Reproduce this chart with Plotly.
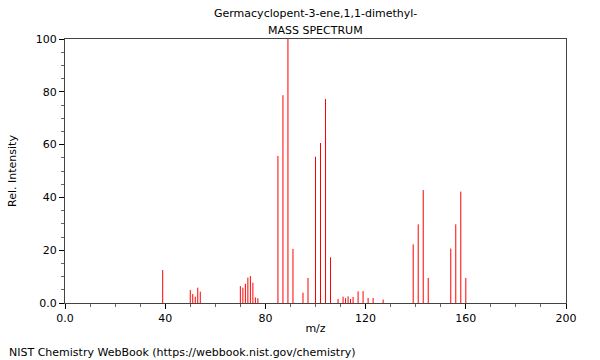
import plotly.graph_objects as go

mz = [39, 50, 51, 52, 53, 54, 70, 71, 72, 73, 74, 75, 76, 77,
      85, 87, 89, 91, 95, 97, 100, 102, 104, 106,
      109, 111, 112, 113, 114, 115, 117, 119, 121, 123, 127,
      139, 141, 143, 145, 154, 156, 158, 160]
intensity = [12.5, 4.9, 3.4, 2.4, 5.8, 4.3, 6.4, 5.8, 7.3, 9.6, 10.2, 7.7, 2.1, 1.8,
             55.7, 78.7, 100, 20.5, 3.9, 9.5, 55.4, 60.6, 77.3, 17.3,
             1.5, 2.4, 1.8, 2.5, 1.5, 2.3, 4.4, 4.5, 1.9, 1.9, 1.3,
             22.2, 29.8, 42.8, 9.5, 20.6, 29.8, 42.2, 9.5]

x_ticks = [0, 40, 80, 120, 160, 200]
x_ticktext = ["0.0", "40", "80", "120", "160", "200"]
y_ticks = [0, 20, 40, 60, 80, 100]
y_ticktext = ["0.0", "20", "40", "60", "80", "100"]

xs, ys = [], []
for m, v in zip(mz, intensity):
    xs += [m, m, None]
    ys += [0, v, None]

fig = go.Figure(go.Scatter(x=xs, y=ys, mode="lines",
                           line=dict(color="#ff0000", width=1),
                           hoverinfo="skip", showlegend=False))

font = dict(family="DejaVu Sans", size=11, color="#000")
axcol = "#444"
fig.update_layout(
    width=600, height=360,
    margin=dict(l=61, r=34, t=39, b=57),
    paper_bgcolor="white", plot_bgcolor="white",
    font=font,
    showlegend=False,
    hovermode=False,
)
fig.update_xaxes(range=[0, 200], tickvals=x_ticks, ticktext=x_ticktext,
                 ticks="outside", ticklen=5, tickcolor="#000",
                 showline=True, linecolor=axcol, linewidth=1, mirror=True,
                 showgrid=False, zeroline=False,
                 minor=dict(dtick=10, tick0=0, ticks="outside", ticklen=3, tickcolor="#666", showgrid=False),
                 title=dict(text="m/z", font=font, standoff=0))
fig.update_yaxes(range=[0, 100], tickvals=y_ticks, ticktext=y_ticktext,
                 ticks="outside", ticklen=5, tickcolor="#000",
                 showline=True, linecolor=axcol, linewidth=1, mirror=True,
                 showgrid=False, zeroline=False,
                 minor=dict(dtick=5, tick0=0, ticks="outside", ticklen=3, tickcolor="#666", showgrid=False),
                 title=dict(text="Rel. Intensity", font=font, standoff=16))

fig.add_annotation(text="Germacyclopent-3-ene,1,1-dimethyl-", xref="paper", yref="paper",
                   x=0.5, y=1, yshift=26, showarrow=False, font=font, xanchor="center", yanchor="middle")
fig.add_annotation(text="MASS SPECTRUM", xref="paper", yref="paper",
                   x=0.5, y=1, yshift=9, showarrow=False, font=font, xanchor="center", yanchor="middle")
fig.add_annotation(text="NIST Chemistry WebBook (https://webbook.nist.gov/chemistry)",
                   xref="paper", yref="paper", x=0, y=0, xshift=-58, yshift=-49,
                   showarrow=False, font=font, xanchor="left", yanchor="middle")

fig.write_html("out.html", config={"staticPlot": True},
               post_script="document.body.style.margin='0';")
